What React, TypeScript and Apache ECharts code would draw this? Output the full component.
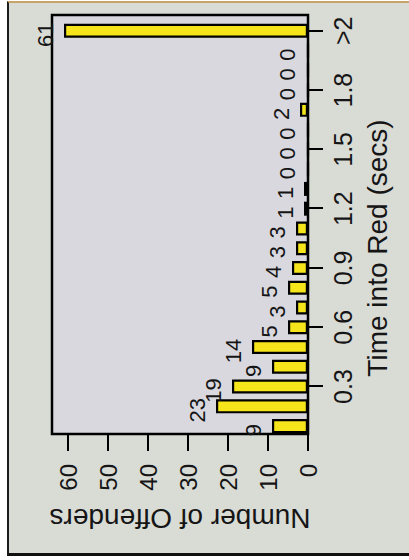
import { useEffect, useRef } from "react";
import * as echarts from "echarts";

// Histogram bins (upper time, secs); last bin is "> 2"
const binCenters = [0.1, 0.2, 0.3, 0.4, 0.5, 0.6, 0.7, 0.8, 0.9, 1.0, 1.1, 1.2, 1.3, 1.4, 1.5, 1.6, 1.7, 1.8, 1.9, 2.0, 2.1];
const offenders = [9, 23, 19, 9, 14, 5, 3, 5, 4, 3, 3, 1, 1, 0, 0, 0, 2, 0, 0, 0, 61];
const timeTicks = [0.3, 0.6, 0.9, 1.2, 1.5, 1.8, 2.1];
const timeTickLabels = ["0.3", "0.6", "0.9", "1.2", "1.5", "1.8", ">2"];
const countTicks = [0, 10, 20, 30, 40, 50, 60];

const FONT = "'Liberation Sans', Arial, sans-serif";
const INK = "#151515";

export default function App() {
  const ref = useRef<HTMLDivElement>(null);

  useEffect(() => {
    if (!ref.current) return;
    const chart = echarts.init(ref.current, null, { renderer: "svg", width: 560, height: 409 });
    chart.setOption({
      animation: false,
      backgroundColor: "transparent",
      textStyle: { fontFamily: FONT },
      grid: {
        left: 126,
        right: 15,
        top: 52,
        bottom: 101,
        show: true,
        borderColor: "#000",
        borderWidth: 2.5,
        backgroundColor: "#d8d8de",
      },
      xAxis: {
        type: "value",
        min: 0.06,
        max: 2.18,
        axisLine: { show: false },
        splitLine: { show: false },
        axisTick: {
          show: true,
          customValues: timeTicks,
          length: 15,
          lineStyle: { color: "#000", width: 2 },
        },
        axisLabel: {
          show: true,
          customValues: timeTicks,
          margin: 22,
          fontSize: 25,
          color: INK,
          fontFamily: FONT,
          formatter: (v: number) => {
            const i = timeTicks.findIndex((t) => Math.abs(t - v) < 1e-6);
            return i >= 0 ? timeTickLabels[i] : "";
          },
        },
      },
      yAxis: {
        type: "value",
        min: 0,
        max: 64,
        axisLine: { show: false },
        splitLine: { show: false },
        axisTick: {
          show: true,
          customValues: countTicks,
          length: 17,
          lineStyle: { color: "#000", width: 2 },
        },
        axisLabel: {
          show: true,
          customValues: countTicks,
          margin: 30,
          fontSize: 24,
          color: INK,
          fontFamily: FONT,
        },
      },
      graphic: [
        {
          type: "text",
          x: 312,
          y: 377,
          style: {
            text: "Time into Red (secs)",
            fontSize: 28,
            fontFamily: FONT,
            fill: INK,
            textAlign: "center",
            textVerticalAlign: "middle",
          },
        },
        {
          type: "text",
          x: 42,
          y: 180,
          rotation: Math.PI / 2,
          style: {
            text: "Number of Offenders",
            fontSize: 28,
            fontFamily: FONT,
            fill: INK,
            textAlign: "center",
            textVerticalAlign: "middle",
          },
        },
      ],
      series: [
        {
          type: "bar",
          data: binCenters.map((c, i) => [c, offenders[i]]),
          barWidth: 14,
          itemStyle: { color: "#f7e51c", borderColor: "#000", borderWidth: 2.2 },
          label: {
            show: true,
            position: "top",
            distance: 8,
            offset: [-4, 0],
            fontSize: 22,
            color: INK,
            fontFamily: FONT,
          },
        },
      ],
    });
    return () => chart.dispose();
  }, []);

  return (
    <div style={{ position: "fixed", left: 0, top: 0, width: 409, height: 560, overflow: "hidden", background: "#fff" }}>
      <div
        style={{
          position: "absolute",
          left: 7,
          top: 1,
          width: 402,
          height: 555,
          boxSizing: "border-box",
          background: "#d9dbd5",
          borderLeft: "2px solid #1c1c1c",
          borderBottom: "3px solid #111",
          borderTop: "2px solid #c9a46a",
        }}
      />
      <div
        ref={ref}
        style={{
          position: "absolute",
          left: 0,
          top: 0,
          width: 560,
          height: 409,
          transformOrigin: "0 0",
          transform: "translateY(560px) rotate(-90deg)",
        }}
      />
    </div>
  );
}
